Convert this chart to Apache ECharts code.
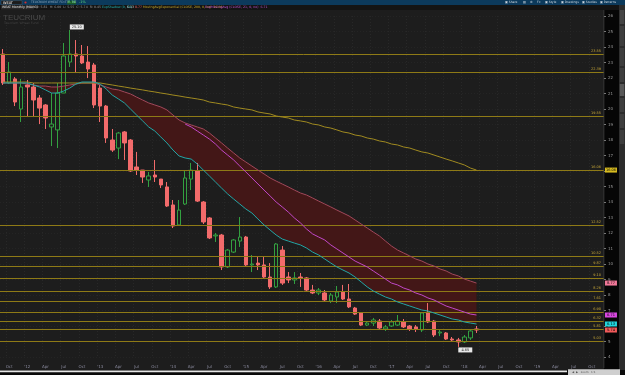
<!DOCTYPE html>
<html><head><meta charset="utf-8">
<script src="https://cdn.jsdelivr.net/npm/echarts@6/dist/echarts.min.js"></script>
<style>html,body{margin:0;padding:0;background:#1d1d1d;}#c{width:625px;height:375px;}</style>
</head><body><div id="c"></div>
<script>
// ---- categories (monthly, Sep 2011 onward) ----
const startYear = 2011, startMonth = 8, nCats = 100;
const categories = [];
for (let k = 0; k < nCats; k++) {
  const m = (startMonth + k) % 12, y = startYear + Math.floor((startMonth + k) / 12);
  categories.push(y + '-' + String(m + 1).padStart(2, '0'));
}
const monthNames = ['Jan','Feb','Mar','Apr','May','Jun','Jul','Aug','Sep','Oct','Nov','Dec'];

// ---- OHLC (monthly) ----
const opens = [23.55,21.68,21.94,20.00,21.55,21.42,20.71,20.26,18.84,18.65,
  21.03,23.03,23.55,23.42,23.03,22.84,21.35,20.19,18.00,17.48,
  18.52,18.00,16.26,16.06,15.42,15.74,15.48,14.97,13.81,12.52,
  13.87,15.48,16.00,14.00,12.97,11.81,11.87,9.81,10.77,11.48,
  11.74,9.94,10.06,9.94,9.16,8.52,10.90,9.16,8.97,9.16,
  9.10,8.32,8.13,8.13,7.61,7.87,8.19,7.74,7.16,6.84,
  6.06,6.19,6.32,5.81,6.00,6.06,6.26,6.00,5.94,5.74,
  6.90,6.32,5.55,5.55,5.16,5.10,4.97,5.23,5.81];
const closes = [21.68,22.39,20.45,21.42,21.42,20.58,20.06,19.42,19.03,21.03,
  23.42,23.55,23.42,22.97,22.58,20.26,20.19,18.13,17.35,18.45,
  17.81,16.00,16.06,15.61,15.68,15.61,15.10,13.74,12.45,13.48,
  15.55,16.06,14.06,12.71,11.68,11.87,9.81,10.90,11.55,11.74,
  9.94,10.00,9.94,9.16,8.52,11.29,8.77,8.97,9.10,9.10,
  8.32,8.13,8.32,7.68,8.00,8.19,7.74,7.23,6.77,6.06,
  6.19,6.39,5.87,5.94,6.26,6.32,5.94,5.81,5.81,6.84,
  6.26,5.42,5.61,5.16,5.10,4.97,5.29,5.68,5.74];
const lows = [21.55,21.61,20.19,19.16,19.48,19.48,19.03,18.71,17.61,17.48,
  21.03,22.71,22.32,22.90,22.00,20.06,19.16,17.81,17.23,16.77,
  16.71,15.94,15.74,15.23,14.97,15.29,14.90,13.68,12.32,12.45,
  13.81,14.77,14.00,12.58,11.61,11.42,9.61,9.74,10.71,11.10,
  9.87,9.48,9.61,9.10,8.39,8.45,8.65,8.77,8.71,8.52,
  8.26,8.06,8.00,7.55,7.48,7.48,7.68,7.16,6.71,6.00,
  6.00,6.00,5.81,5.68,5.94,6.00,5.87,5.68,5.61,5.61,
  6.19,5.29,5.35,5.10,4.97,4.65,4.90,5.10,5.55];
const highs = [23.87,23.03,22.06,21.94,21.87,21.68,20.90,20.32,21.03,21.68,
  24.26,25.10,24.45,24.13,24.06,22.97,21.55,20.26,18.71,18.52,
  18.58,18.06,17.23,16.06,15.94,16.71,15.48,15.29,14.13,14.13,
  16.06,16.52,16.52,14.06,13.03,12.00,11.94,10.97,11.61,13.03,
  11.81,10.58,10.45,10.45,10.06,11.35,11.16,9.48,9.48,9.42,
  9.16,8.65,8.45,8.32,8.13,8.58,8.65,8.71,7.23,6.90,
  6.26,6.52,6.45,6.06,6.39,6.71,6.45,6.06,6.06,6.90,
  7.48,6.39,5.74,5.61,5.29,5.23,5.42,5.74,6.00];

// ---- studies ----
const fastMA = [21.68,21.68,21.68,21.68,21.68,21.55,21.42,21.23,21.03,21.03,
  21.16,21.35,21.61,21.74,21.74,21.74,21.61,21.29,20.90,20.65,
  20.39,20.00,19.61,19.23,18.84,18.58,18.19,17.81,17.35,16.97,
  16.84,16.77,16.45,16.06,15.68,15.29,14.90,14.52,14.19,13.87,
  13.55,13.29,12.90,12.52,12.19,11.87,11.61,11.48,11.35,11.23,
  11.03,10.77,10.58,10.32,10.06,9.81,9.61,9.42,9.16,8.84,
  8.52,8.26,8.06,7.87,7.74,7.55,7.42,7.29,7.16,7.03,
  6.97,6.84,6.71,6.58,6.45,6.39,6.26,6.19,6.13];
const upperMA = [21.68,21.68,21.68,21.68,21.61,21.55,21.48,21.48,21.42,21.42,
  21.48,21.55,21.61,21.68,21.68,21.68,21.55,21.42,21.29,21.23,
  21.10,20.97,20.77,20.58,20.39,20.26,20.13,19.94,19.61,19.29,
  19.10,18.97,18.84,18.71,18.45,18.13,17.81,17.48,17.16,16.84,
  16.58,16.32,16.06,15.81,15.55,15.35,15.16,14.97,14.77,14.58,
  14.45,14.26,14.06,13.87,13.68,13.48,13.29,13.10,12.84,12.58,
  12.32,12.06,11.81,11.48,11.16,10.90,10.71,10.52,10.32,10.19,
  10.00,9.87,9.68,9.55,9.35,9.23,9.03,8.90,8.77];
const midStart = 30;
const midMA = [19.03,18.84,18.58,18.32,18.06,17.74,17.35,17.03,16.71,16.32,
  15.94,15.55,15.16,14.77,14.39,14.00,13.68,13.35,12.97,12.65,
  12.26,11.94,11.74,11.55,11.23,10.97,10.71,10.45,10.19,10.00,
  9.81,9.55,9.29,9.03,8.77,8.65,8.45,8.32,8.13,8.00,
  7.81,7.68,7.48,7.29,7.16,7.03,6.90,6.77,6.71];
const slowMA = [21.74,21.74,21.74,21.74,21.74,21.68,21.68,21.68,21.68,21.68,
  21.68,21.68,21.68,21.68,21.68,21.68,21.68,21.61,21.55,21.48,
  21.42,21.35,21.29,21.23,21.16,21.10,21.03,20.97,20.90,20.84,
  20.77,20.71,20.65,20.58,20.45,20.39,20.32,20.26,20.13,20.06,
  20.00,19.94,19.81,19.74,19.68,19.55,19.48,19.42,19.29,19.23,
  19.16,19.03,18.97,18.84,18.77,18.65,18.52,18.45,18.32,18.26,
  18.13,18.06,17.94,17.87,17.74,17.68,17.55,17.48,17.35,17.23,
  17.16,17.03,16.90,16.77,16.65,16.52,16.39,16.19,16.06];

// ---- horizontal price levels ----
const levels = [23.55,22.39,19.55,16.06,12.52,10.52,9.87,9.10,8.26,7.61,6.90,6.32,5.81,5.03];

// ---- axis ----
const yMin = 4, yMax = 26, yStep = 1;

// ---- build ----
const candleData = opens.map((o, i) => [o, closes[i], lows[i], highs[i]]);
const bandData = upperMA.map((u, i) => +(u - fastMA[i]).toFixed(2));
const midData = new Array(midStart).fill(null).concat(midMA);
const last = opens.length - 1;
const edgeCat = categories[nCats - 1];
let hiIdx = 0, loIdx = 0;
highs.forEach((h, i) => { if (h > highs[hiIdx]) hiIdx = i; });
lows.forEach((l, i) => { if (l < lows[loIdx]) loIdx = i; });

const isQuarter = (idx, val) => (+val.slice(5)) % 3 === 1;
const fmtCat = (val) => { const m = +val.slice(5); return m === 1 ? "'" + val.slice(2, 4) : monthNames[m - 1]; };

function bubble(value, color) {
  return {
    z: 12, symbol: 'rect', symbolSize: [12, 5], symbolOffset: [7, 0], silent: true,
    itemStyle: { color: color },
    label: { show: true, fontSize: 3.5, color: '#000', fontFamily: 'DejaVu Sans', formatter: () => value.toFixed(2) },
    data: [{ coord: [edgeCat, value] }]
  };
}

const F = 'DejaVu Sans';
const R = (x, y, w, h, fill, extra) => Object.assign({ type: 'rect', z: 8, silent: true, shape: { x, y, width: w, height: h }, style: { fill } }, extra || {});
const T = (x, y, text, fill, size, extra) => ({ type: 'text', z: 9, silent: true, x, y,
  style: Object.assign({ text, fill, fontSize: size || 4, fontFamily: F, verticalAlign: 'middle' }, extra || {}) });

const graphic = [
  R(0, 0, 625, 5, '#0c3a5c'),
  R(1, 0.6, 21, 3.8, '#1c1c1c', { style: { fill: '#1c1c1c', stroke: '#5a6a78', lineWidth: 0.4 } }),
  T(3, 2.6, 'WEAT', '#ffffff', 3.5),
  { type: 'circle', z: 9, silent: true, shape: { cx: 25.5, cy: 2.5, r: 1.1 }, style: { fill: '#d23030' } },
  T(31, 2.6, 'TEUCRIUM WHEAT FD ETF  ISE', '#8fa8bf', 3),
  R(67, 0.8, 9, 3.6, '#1c5a2a'),
  T(68, 2.6, '5.74', '#5fe07a', 3.4),
  T(79, 2.6, '-1%', '#5fe07a', 3.4),
  T(505, 2.6, '\u25a3 Share', '#cfd8e0', 3),
  T(523, 2.6, '\u25a4', '#cfd8e0', 3),
  T(530, 2.6, '\u2699', '#cfd8e0', 3),
  T(537, 2.6, 'Fx', '#cfd8e0', 3),
  T(545, 2.6, '\u25a3 Style', '#cfd8e0', 3),
  T(561, 2.6, '\u25a3 Drawings', '#cfd8e0', 3),
  T(582, 2.6, '\u25a3 Studies', '#cfd8e0', 3),
  T(600, 2.6, '\u25a3 Patterns', '#cfd8e0', 3),
  R(0, 5, 625, 5, '#141414'),
  R(1, 5.6, 33, 3.8, '#2a2a2a'),
  T(2, 7.5, 'WEAT Monthly (MAVG)', '#e8e8e8', 3.2),
  T(36, 7.5, 'O: 5.81  H: 6.00  L: 5.55  C: 5.74  R: 0.45', '#9a9a9a', 3.2),
  T(102, 7.5, 'ExpShadow (9, 50)', '#1fb3b3', 3.2),
  T(127, 7.5, '6.13', '#dddddd', 3.2),
  T(135, 7.5, '8.77', '#f06868', 3.2),
  T(143, 7.5, 'MovingAvgExponential (CLOSE, 200, 0, no)  16.06', '#c8a828', 3.2),
  T(205, 7.5, 'ExpMovingAvg (CLOSE, 21, 0, no)  6.71', '#c050d0', 3.2),
  T(3, 17.5, 'TEUCRIUM', '#4a4a4a', 8, { fontFamily: 'Liberation Sans' }),
  T(4, 23, 'Teucrium Wheat Fund', '#444444', 3.2),
  R(604, 10, 15, 360, '#060606'),
  R(603.5, 10, 0.8, 358, '#3c3c3c'),
  R(619, 5, 6, 370, '#2c2c2c'),
  R(619.8, 10, 4.5, 14, '#454545'), R(619.8, 26, 4.5, 20, '#3e3e3e'), R(619.8, 48, 4.5, 18, '#3e3e3e'),
  R(619.8, 68, 4.5, 14, '#3e3e3e'), R(619.8, 84, 4.5, 12, '#585858'), R(619.8, 98, 4.5, 14, '#3e3e3e'),
  R(619.8, 114, 4.5, 14, '#3e3e3e'), R(619.8, 130, 4.5, 14, '#3e3e3e'),
  R(0, 370, 625, 5, '#0a0a0a'),
  R(0, 370.4, 567, 1.8, '#e6e6e6'),
  R(568, 369.2, 52, 5.8, '#cfcfcf'),
  T(572, 372, '\u25c0  \u25b6   zoom   1:1', '#555555', 2.8)
];

const chart = echarts.init(document.getElementById('c'), null, { renderer: 'canvas' });
chart.setOption({
  backgroundColor: '#1d1d1d',
  animation: false,
  grid: { left: 0, right: 18, top: 16, bottom: 18 },
  xAxis: {
    type: 'category', data: categories, boundaryGap: true,
    axisLine: { show: false }, axisTick: { show: false },
    axisLabel: { interval: isQuarter, formatter: fmtCat, fontSize: 4, color: '#8c8ca0', margin: 8, fontFamily: F },
    splitLine: { show: true, interval: isQuarter, lineStyle: { color: '#2b2b2b', type: [1, 2], width: 0.8 } }
  },
  yAxis: [
    { type: 'value', min: yMin, max: yMax, interval: yStep, position: 'right', scale: true,
      axisLabel: { show: false }, axisTick: { show: false }, axisLine: { show: false },
      splitLine: { show: true, lineStyle: { color: '#262626', type: [1, 2], width: 0.8 } } },
    { type: 'value', min: yMin, max: yMax, interval: yStep, position: 'right', offset: -3, z: 10,
      axisLine: { show: false }, axisTick: { show: true, length: 2, lineStyle: { color: '#777' } },
      axisLabel: { fontSize: 4, color: '#9a9a9a', margin: 4, fontFamily: F },
      splitLine: { show: false } }
  ],
  graphic: graphic,
  series: [
    { name: 'cloudBase', type: 'line', data: fastMA, stack: 'cloud', stackStrategy: 'all', z: 1,
      symbol: 'none', silent: true, lineStyle: { opacity: 0 } },
    { name: 'cloudBand', type: 'line', data: bandData, stack: 'cloud', stackStrategy: 'all', z: 1,
      symbol: 'none', silent: true, lineStyle: { opacity: 0 },
      areaStyle: { color: '#431717', opacity: 1 } },
    { name: 'WEAT', type: 'candlestick', data: candleData, z: 2, barWidth: 4,
      itemStyle: { color: 'rgba(0,0,0,0)', color0: '#f26b6b', borderColor: '#33a040', borderColor0: '#f26b6b', borderWidth: 1 },
      markLine: {
        z: 3, silent: true, symbol: 'none',
        lineStyle: { color: '#8e7a16', type: 'solid', width: 1 },
        label: { show: true, position: 'insideEndTop', distance: [6, 1], fontSize: 3.5, color: '#c8a838', fontFamily: F,
          formatter: (p) => p.value.toFixed(2) },
        data: levels.map(v => ({ yAxis: v }))
      },
      markPoint: {
        z: 12, silent: true, symbol: 'rect', symbolSize: [14, 5],
        itemStyle: { color: '#e8e8e8' },
        label: { show: true, fontSize: 3.5, color: '#222', fontFamily: F, formatter: (p) => p.value.toFixed(2) },
        data: [
          { coord: [categories[hiIdx], highs[hiIdx]], value: highs[hiIdx], symbolOffset: [7, -3] },
          { coord: [categories[loIdx], lows[loIdx]], value: lows[loIdx], symbolOffset: [7, 3] }
        ]
      }
    },
    { name: 'upper', type: 'line', data: upperMA, z: 6, symbol: 'none', silent: true,
      lineStyle: { color: '#a0485a', width: 1 }, markPoint: bubble(upperMA[last], '#f07898') },
    { name: 'mid', type: 'line', data: midData, z: 6, symbol: 'none', silent: true,
      lineStyle: { color: '#c048c8', width: 1 }, markPoint: bubble(midMA[midMA.length - 1], '#d848e0') },
    { name: 'slow', type: 'line', data: slowMA, z: 6, symbol: 'none', silent: true,
      lineStyle: { color: '#a08a20', width: 1 }, markPoint: bubble(slowMA[last], '#d8bc20') },
    { name: 'fast', type: 'line', data: fastMA, z: 6, symbol: 'none', silent: true,
      lineStyle: { color: '#22a6a6', width: 1 }, markPoint: bubble(fastMA[last], '#22d4dc') },
    { name: 'lastPrice', type: 'line', data: [], z: 6, symbol: 'none', silent: true,
      markPoint: bubble(closes[last], '#f05a5a') }
  ]
});
</script></body></html>
